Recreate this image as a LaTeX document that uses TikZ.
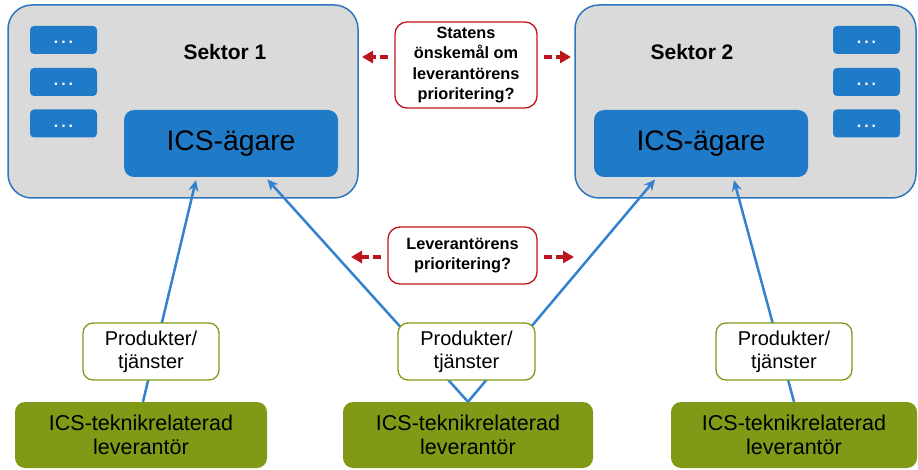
\documentclass[tikz,border=0pt]{standalone}
\usepackage{fontspec}
\setmainfont{Liberation Sans}
\usetikzlibrary{arrows.meta,calc}
\definecolor{bluebox}{RGB}{31,122,200}
\definecolor{sekfill}{RGB}{218,218,218}
\definecolor{sekline}{RGB}{46,117,190}
\definecolor{greenbox}{RGB}{128,154,24}
\definecolor{redline}{RGB}{190,20,30}
\definecolor{lineblue}{RGB}{52,130,205}
\tikzset{
  sektor/.style={draw=sekline, line width=1.5pt, fill=sekfill, rounded corners=24pt, inner sep=0pt},
  dotbox/.style={fill=bluebox, rounded corners=4pt, minimum width=67pt, minimum height=28pt, inner sep=0pt, text=white, font=\bfseries\fontsize{16}{18}\selectfont},
  owner/.style={fill=bluebox, rounded corners=10pt, minimum height=67pt, inner sep=0pt, font=\fontsize{28.3}{30}\selectfont},
  title/.style={font=\bfseries\fontsize{21}{24}\selectfont},
  question/.style={draw=redline, line width=1.3pt, fill=white, rounded corners=12pt, inner sep=0pt, align=center, font=\bfseries\fontsize{16.3}{20.5}\selectfont},
  prodbox/.style={draw=greenbox, line width=1.3pt, fill=white, rounded corners=10pt, minimum height=57pt, minimum width=136pt, inner sep=0pt, align=center, font=\fontsize{20}{23}\selectfont},
  supbox/.style={fill=greenbox, rounded corners=10pt, minimum height=66pt, inner sep=0pt, align=center, font=\fontsize{21.5}{24}\selectfont},
  conn/.style={draw=lineblue, line width=2.5pt, shorten >=3pt, -{Stealth[length=11pt,width=10pt]}},
  redarr/.style={draw=redline, line width=3.3pt, dash pattern=on 8pt off 4.5pt, -{Triangle[length=11pt,width=12pt]}}
}
\newcommand{\mydots}{\vphantom{Ag}.\hspace{3pt}.\hspace{3pt}.}
\begin{document}
\begin{tikzpicture}[x=1pt,y=-1pt]
\useasboundingbox (0,0) rectangle (918,470);
% sectors
\node[sektor, minimum width=350pt, minimum height=193pt] (sek1) at (183,101.5) {};
\node[sektor, minimum width=341pt, minimum height=193pt] (sek2) at (745.5,101.5) {};
\node[dotbox] (d11) at (63.5,40) {\mydots};
\node[dotbox] (d12) at (63.5,82) {\mydots};
\node[dotbox] (d13) at (63.5,123.5) {\mydots};
\node[dotbox] (d21) at (866.5,40) {\mydots};
\node[dotbox] (d22) at (866.5,82) {\mydots};
\node[dotbox] (d23) at (866.5,123.5) {\mydots};
\node[title] (t1) at (225,52) {Sektor 1};
\node[title] (t2) at (692,52) {Sektor 2};
\node[owner, minimum width=214pt] (own1) at (231,143.5) {ICS-ägare};
\node[owner, minimum width=214pt] (own2) at (701,143.5) {ICS-ägare};
% questions
\node[question, minimum width=142pt, minimum height=86pt] (statens) at (466,65) {Statens\\önskemål om\\leverantörens\\prioritering?};
\node[question, minimum width=149pt, minimum height=57pt] (lev) at (462.5,255.5) {Leverantörens\\prioritering?};
\coordinate (sL) at (362,57);
\coordinate (sR) at (571,57);
\coordinate (lL) at (351,257);
\coordinate (lR) at (574,257);
\draw[redarr] ([shift={(-6,-8)}]statens.west) -- (sL);
\draw[redarr] ([shift={(6,-8)}]statens.east) -- (sR);
\draw[redarr] ([shift={(-6,1.5)}]lev.west) -- (lL);
\draw[redarr] ([shift={(6,1.5)}]lev.east) -- (lR);
% suppliers
\node[supbox, minimum width=252pt] (sup1) at (141,435) {ICS-teknikrelaterad\\leverantör};
\node[supbox, minimum width=250pt] (sup2) at (468,435) {ICS-teknikrelaterad\\leverantör};
\node[supbox, minimum width=246pt] (sup3) at (794,435) {ICS-teknikrelaterad\\leverantör};
% connectors
\draw[conn] ([xshift=2pt]sup1.north) -- ($(own1.south west)!0.34!(own1.south east)$);
\draw[conn] (sup2.north) -- ($(own1.south west)!0.66!(own1.south east)$);
\draw[conn] (sup2.north) -- ($(own2.south west)!0.295!(own2.south east)$);
\draw[conn] (sup3.north) -- ($(own2.south west)!0.65!(own2.south east)$);
% products
\node[prodbox] (prod1) at (151,351.5) {Produkter/\\tjänster};
\node[prodbox, minimum width=137pt] (prod2) at (466.5,351.5) {Produkter/\\tjänster};
\node[prodbox] (prod3) at (784,351.5) {Produkter/\\tjänster};
\end{tikzpicture}
\end{document}
